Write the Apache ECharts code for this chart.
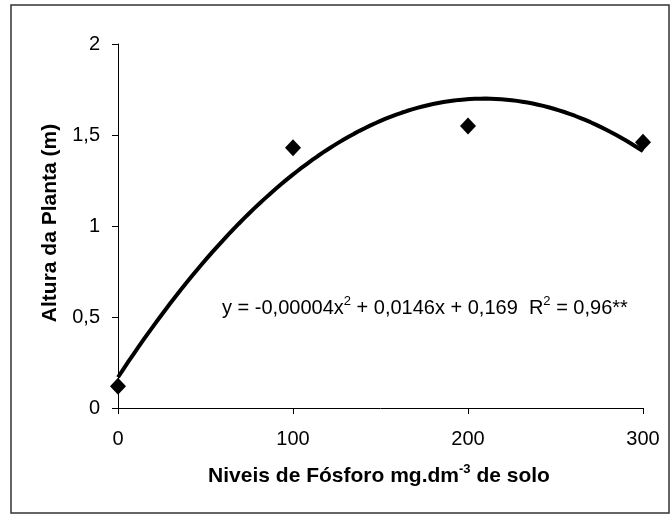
<!DOCTYPE html>
<html>
<head>
<meta charset="utf-8">
<script src="https://cdn.jsdelivr.net/npm/echarts@6/dist/echarts.min.js"></script>
<style>
  html, body { margin: 0; padding: 0; background: #ffffff; }
  #chart { width: 672px; height: 516px; }
</style>
</head>
<body>
<div id="chart"></div>
<script>
// Measured plant height per phosphorus level
const phosphorusLevels = [0, 100, 200, 300];
const plantHeights = [0.12, 1.43, 1.55, 1.46];

// Tick labels (comma as decimal separator)
const xTickLabels = ['0', '100', '200', '300'];
const yTickLabels = ['0', '0,5', '1', '1,5', '2'];

const FONT = 'Arial, "Liberation Sans", sans-serif';

// Least-squares quadratic trend line through the measured points
function quadraticFit(xs, ys) {
  let s = [0, 0, 0, 0, 0], t = [0, 0, 0];
  xs.forEach((x, i) => {
    for (let k = 0; k < 5; k++) s[k] += Math.pow(x, k);
    for (let k = 0; k < 3; k++) t[k] += Math.pow(x, k) * ys[i];
  });
  const m = [
    [s[0], s[1], s[2], t[0]],
    [s[1], s[2], s[3], t[1]],
    [s[2], s[3], s[4], t[2]]
  ];
  for (let c = 0; c < 3; c++) {
    for (let r = c + 1; r < 3; r++) {
      const f = m[r][c] / m[c][c];
      for (let k = c; k < 4; k++) m[r][k] -= f * m[c][k];
    }
  }
  const coef = [0, 0, 0];
  for (let r = 2; r >= 0; r--) {
    let v = m[r][3];
    for (let k = r + 1; k < 3; k++) v -= m[r][k] * coef[k];
    coef[r] = v / m[r][r];
  }
  return coef; // [c, b, a]
}

const coef = quadraticFit(phosphorusLevels, plantHeights);
const trend = [];
for (let x = 0; x <= 300; x += 3) {
  trend.push([x, coef[0] + coef[1] * x + coef[2] * x * x]);
}

const chart = echarts.init(document.getElementById('chart'), null, { renderer: 'canvas' });

chart.setOption({
  animation: false,
  backgroundColor: '#ffffff',
  grid: { left: 118, right: 29, top: 44, bottom: 108, containLabel: false },
  xAxis: {
    type: 'value',
    min: 0, max: 300, interval: 100,
    axisLine: { show: true, lineStyle: { color: '#000', width: 1 } },
    axisTick: { show: true, inside: false, length: 6, lineStyle: { color: '#000', width: 1 } },
    splitLine: { show: false },
    axisLabel: {
      margin: 21,
      color: '#000',
      fontFamily: FONT,
      fontSize: 20,
      formatter: v => xTickLabels[Math.round(v / 100)]
    }
  },
  yAxis: {
    type: 'value',
    min: 0, max: 2, interval: 0.5,
    axisLine: { show: true, lineStyle: { color: '#000', width: 1 } },
    axisTick: { show: true, inside: false, length: 6, lineStyle: { color: '#000', width: 1 } },
    splitLine: { show: false },
    axisLabel: {
      margin: 18,
      color: '#000',
      fontFamily: FONT,
      fontSize: 20,
      formatter: v => yTickLabels[Math.round(v / 0.5)]
    }
  },
  series: [
    {
      type: 'line',
      data: trend,
      showSymbol: false,
      symbol: 'none',
      lineStyle: { color: '#000', width: 4 },
      z: 2
    },
    {
      type: 'scatter',
      data: phosphorusLevels.map((x, i) => [x, plantHeights[i]]),
      symbol: 'diamond',
      symbolSize: [16, 17],
      itemStyle: { color: '#000', opacity: 1 },
      z: 3
    }
  ],
  graphic: {
    elements: [
      {
        type: 'rect',
        shape: { x: 11, y: 5, width: 658, height: 508 },
        style: { fill: 'none', stroke: '#333', lineWidth: 1.5 },
        silent: true
      },
      {
        type: 'text',
        x: 50, y: 223,
        rotation: Math.PI / 2,
        style: {
          text: 'Altura da Planta (m)',
          font: 'bold 21px ' + FONT,
          fill: '#000',
          align: 'center',
          verticalAlign: 'middle'
        }
      },
      {
        type: 'text',
        x: 379, y: 476,
        style: {
          text: '{b|Niveis de Fósforo mg.dm}{s|-3}{b| de solo}',
          align: 'center',
          verticalAlign: 'middle',
          rich: {
            b: { font: 'bold 21px ' + FONT, fill: '#000', lineHeight: 26 },
            s: { font: 'bold 13px ' + FONT, fill: '#000', lineHeight: 26, verticalAlign: 'top' }
          }
        }
      },
      {
        type: 'text',
        x: 222, y: 308,
        style: {
          text: '{n|y = -0,00004x}{s|2}{n| + 0,0146x + 0,169  R}{s|2}{n| = 0,96**}',
          align: 'left',
          verticalAlign: 'middle',
          rich: {
            n: { font: '20px ' + FONT, fill: '#000', lineHeight: 26 },
            s: { font: '13px ' + FONT, fill: '#000', lineHeight: 26, verticalAlign: 'top' }
          }
        }
      }
    ]
  }
});
</script>
</body>
</html>
